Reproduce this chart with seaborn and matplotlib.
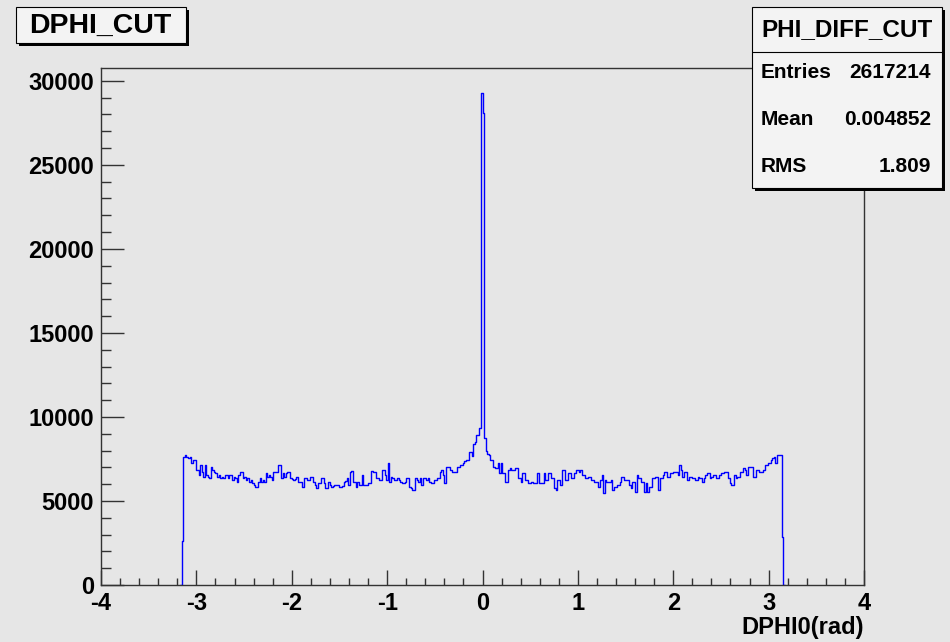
import matplotlib
matplotlib.use('Agg')
import matplotlib.pyplot as plt
from matplotlib.patches import Rectangle
from matplotlib.ticker import MultipleLocator
import numpy as np
import pandas as pd
import seaborn as sns

HIST_TITLE = 'DPHI_CUT'
STATS_TITLE = 'PHI_DIFF_CUT'
STATS_LABELS = ['Entries', 'Mean', 'RMS']
STATS_VALUES = ['2617214', '0.004852', '1.809']
X_LABEL = 'DPHI0(rad)'

# histogram: 500 bins on [-4, 4], only the bins inside [-pi, pi] are filled
X_MIN, X_MAX, N_BINS = -4.0, 4.0, 500
FIRST_FILLED_BIN = 53
counts = [
    2600,
    7640, 7740, 7640, 7540, 7640, 7250, 7440, 7440, 6845, 6845,
    6550, 7140, 6750, 6450, 7140, 6550, 6450, 6350, 7040, 6845,
    6750, 6650, 6450, 6550, 6350, 6450, 6350, 6550, 6550, 6350,
    6550, 6550, 6250, 6450, 6350, 6150, 6550, 6750, 6750, 6350,
    6450, 6250, 6350, 6150, 6250, 6050, 5950, 5850, 5850, 6150,
    6350, 6150, 6250, 6150, 6650, 6450, 6550, 6450, 6250, 6750,
    6750, 6700, 7140, 7140, 6350, 6650, 6450, 6650, 6750, 6750,
    6350, 6300, 6250, 6300, 6450, 6150, 6150, 6150, 5850, 6350,
    6350, 6250, 6250, 6450, 6450, 6150, 5950, 5800, 6050, 6050,
    6350, 6350, 6050, 5750, 5750, 6150, 5950, 5850, 5900, 5950,
    5950, 5950, 5850, 5850, 5900, 6150, 6200, 6350, 5950, 6750,
    6800, 6150, 6150, 5850, 6150, 5950, 5950, 6550, 5950, 5950,
    5950, 6050, 6050, 6800, 6750, 6750, 6350, 6350, 6250, 6250,
    6845, 6845, 6550, 6250, 7240, 6150, 6450, 6350, 6250, 6250,
    6350, 6250, 6150, 6050, 6050, 6150, 6350, 6350, 5850, 5750,
    5650, 5650, 6350, 6250, 6150, 6350, 5950, 6350, 6350, 6250,
    6350, 6150, 6050, 6050, 6250, 6250, 6350, 6350, 6750, 6850,
    6550, 6050, 7040, 7040, 7040, 6845, 6750, 6750, 6750, 7040,
    7040, 7140, 7140, 7240, 7350, 7440, 7440, 7935, 7935, 7700,
    8400, 8500, 8930, 8930, 9350, 29300, 28100, 8750, 7950, 7800,
    7740, 7440, 7440, 7040, 6950, 6950, 7240, 6650, 7240, 6650,
    6650, 6150, 6150, 6845, 6950, 6845, 6845, 6950, 6950, 6350,
    6350, 6150, 6650, 6650, 6250, 6250, 6050, 6050, 6150, 6050,
    6050, 6050, 6650, 6050, 6050, 6050, 6650, 6250, 6250, 6650,
    6650, 6350, 6350, 5750, 5650, 6250, 6250, 5950, 6845, 6845,
    6250, 6250, 6650, 6650, 6350, 6350, 6650, 6845, 6845, 6700,
    6845, 6550, 6550, 6350, 6350, 6450, 6450, 6250, 6250, 6150,
    6150, 6150, 5850, 6250, 6550, 5480, 6250, 6150, 6150, 6150,
    6250, 5650, 5850, 5850, 5950, 5950, 6150, 6450, 6450, 6250,
    6250, 6250, 5950, 5750, 6150, 6150, 5550, 6550, 6350, 6350,
    6150, 6150, 5550, 6050, 5550, 5850, 5850, 6350, 6350, 6450,
    6450, 5650, 6350, 6350, 6550, 6750, 6750, 6450, 6450, 6650,
    6650, 6750, 6750, 6750, 6550, 7140, 6845, 6450, 6750, 6750,
    6250, 6450, 6450, 6350, 6350, 6250, 6250, 6450, 6350, 6350,
    6150, 6350, 6550, 6650, 6650, 6350, 6450, 6550, 6550, 6350,
    6350, 6550, 6650, 6650, 6750, 6750, 6750, 6350, 6050, 5950,
    5950, 6550, 6350, 6450, 6450, 6750, 6750, 6950, 6845, 6550,
    7040, 7040, 7040, 6450, 6450, 6845, 6845, 6750, 6750, 6750,
    6845, 7140, 7140, 7250, 7250, 7440, 7540, 7640, 7250, 7740,
    7740, 7740,
    2850,
]

BG = '#e6e6e6'
BOX = '#f3f3f3'
AXC = '#333333'
W, H = 950, 642

sns.set_style('white')
plt.rcParams['font.family'] = ['Liberation Sans', 'DejaVu Sans']
plt.rcParams['font.weight'] = 'bold'
plt.rcParams['axes.unicode_minus'] = False
plt.rcParams['text.color'] = 'black'
plt.rcParams['axes.labelcolor'] = 'black'

# histogram the filled bins plus one empty bin on each side, so the outline
# drops to zero at +-pi like ROOT's
edges = np.linspace(X_MIN, X_MAX, N_BINS + 1)
lo, hi = FIRST_FILLED_BIN - 1, FIRST_FILLED_BIN + len(counts) + 1
centers = (edges[lo:hi] + edges[lo + 1:hi + 1]) / 2
weights = np.concatenate([[0], counts, [0]])
df = pd.DataFrame({'dphi': centers, 'n': weights})

fig = plt.figure(figsize=(W / 100, H / 100), dpi=100, facecolor=BG)
ax = fig.add_axes([101 / W, 57 / H, 763 / W, 517 / H])
ax.set_facecolor(BG)

sns.histplot(data=df, x='dphi', weights='n', bins=hi - lo,
             binrange=(edges[lo], edges[hi]), element='step', fill=False,
             color='#0000ff', linewidth=1.0, ax=ax, zorder=1.5)

ax.set_xlim(X_MIN, X_MAX)
ax.set_ylim(0, max(counts) * 1.05)
ax.set_ylabel('')
ax.set_xlabel(X_LABEL, loc='right', fontsize=17, fontweight='bold',
              labelpad=1)

ax.xaxis.set_major_locator(MultipleLocator(1))
ax.xaxis.set_minor_locator(MultipleLocator(0.2))
ax.yaxis.set_major_locator(MultipleLocator(5000))
ax.yaxis.set_minor_locator(MultipleLocator(1000))
ax.tick_params(axis='x', which='major', direction='in', length=10.8,
               width=1, color=AXC, labelcolor='black', labelsize=17,
               pad=5, bottom=True, top=False)
ax.tick_params(axis='x', which='minor', direction='in', length=5.4,
               width=1, color=AXC, bottom=True, top=False)
ax.tick_params(axis='y', which='major', direction='in', length=16.5,
               width=1, color=AXC, labelcolor='black', labelsize=17,
               pad=5, left=True, right=False)
ax.tick_params(axis='y', which='minor', direction='in', length=7.5,
               width=1, color=AXC, left=True, right=False)
for lab in ax.get_xticklabels() + ax.get_yticklabels():
    lab.set_fontweight('bold')
for side in ['left', 'bottom', 'top', 'right']:
    ax.spines[side].set_visible(True)
    ax.spines[side].set_color(AXC)
    ax.spines[side].set_linewidth(1)


def box(x0, y0, x1, y1):
    # ROOT style pave: black drop shadow, light fill, thin border
    fig.add_artist(Rectangle((x0 / W + 3 / W, 1 - (y1 + 3) / H),
                             (x1 - x0) / W, (y1 - y0) / H,
                             transform=fig.transFigure, facecolor='black',
                             edgecolor='black', lw=0, zorder=5))
    fig.add_artist(Rectangle((x0 / W, 1 - y1 / H),
                             (x1 - x0) / W, (y1 - y0) / H,
                             transform=fig.transFigure, facecolor=BOX,
                             edgecolor='black', lw=0.8, zorder=6))


# title pave
box(15.7, 7.3, 185.7, 43.3)
fig.text(100.7 / W, 1 - 25.5 / H, HIST_TITLE, ha='center', va='center',
         fontsize=20.5, fontweight='bold', zorder=7)

# stats pave
box(751.7, 7.3, 941.7, 188)
fig.add_artist(plt.Line2D([751.7 / W, 941.7 / W], [1 - 52.3 / H] * 2,
                          transform=fig.transFigure, color='black', lw=0.8,
                          zorder=7))
fig.text(846.7 / W, 1 - 30 / H, STATS_TITLE, ha='center', va='center',
         fontsize=17.5, fontweight='bold', zorder=7)
for i, (lab, val) in enumerate(zip(STATS_LABELS, STATS_VALUES)):
    yy = 1 - (72.5 + 47 * i) / H
    fig.text(760.5 / W, yy, lab, ha='left', va='center', fontsize=15,
             fontweight='bold', zorder=7)
    fig.text(931 / W, yy, val, ha='right', va='center', fontsize=15,
             fontweight='bold', zorder=7)

fig.savefig('out.png', dpi=100, facecolor=BG)
